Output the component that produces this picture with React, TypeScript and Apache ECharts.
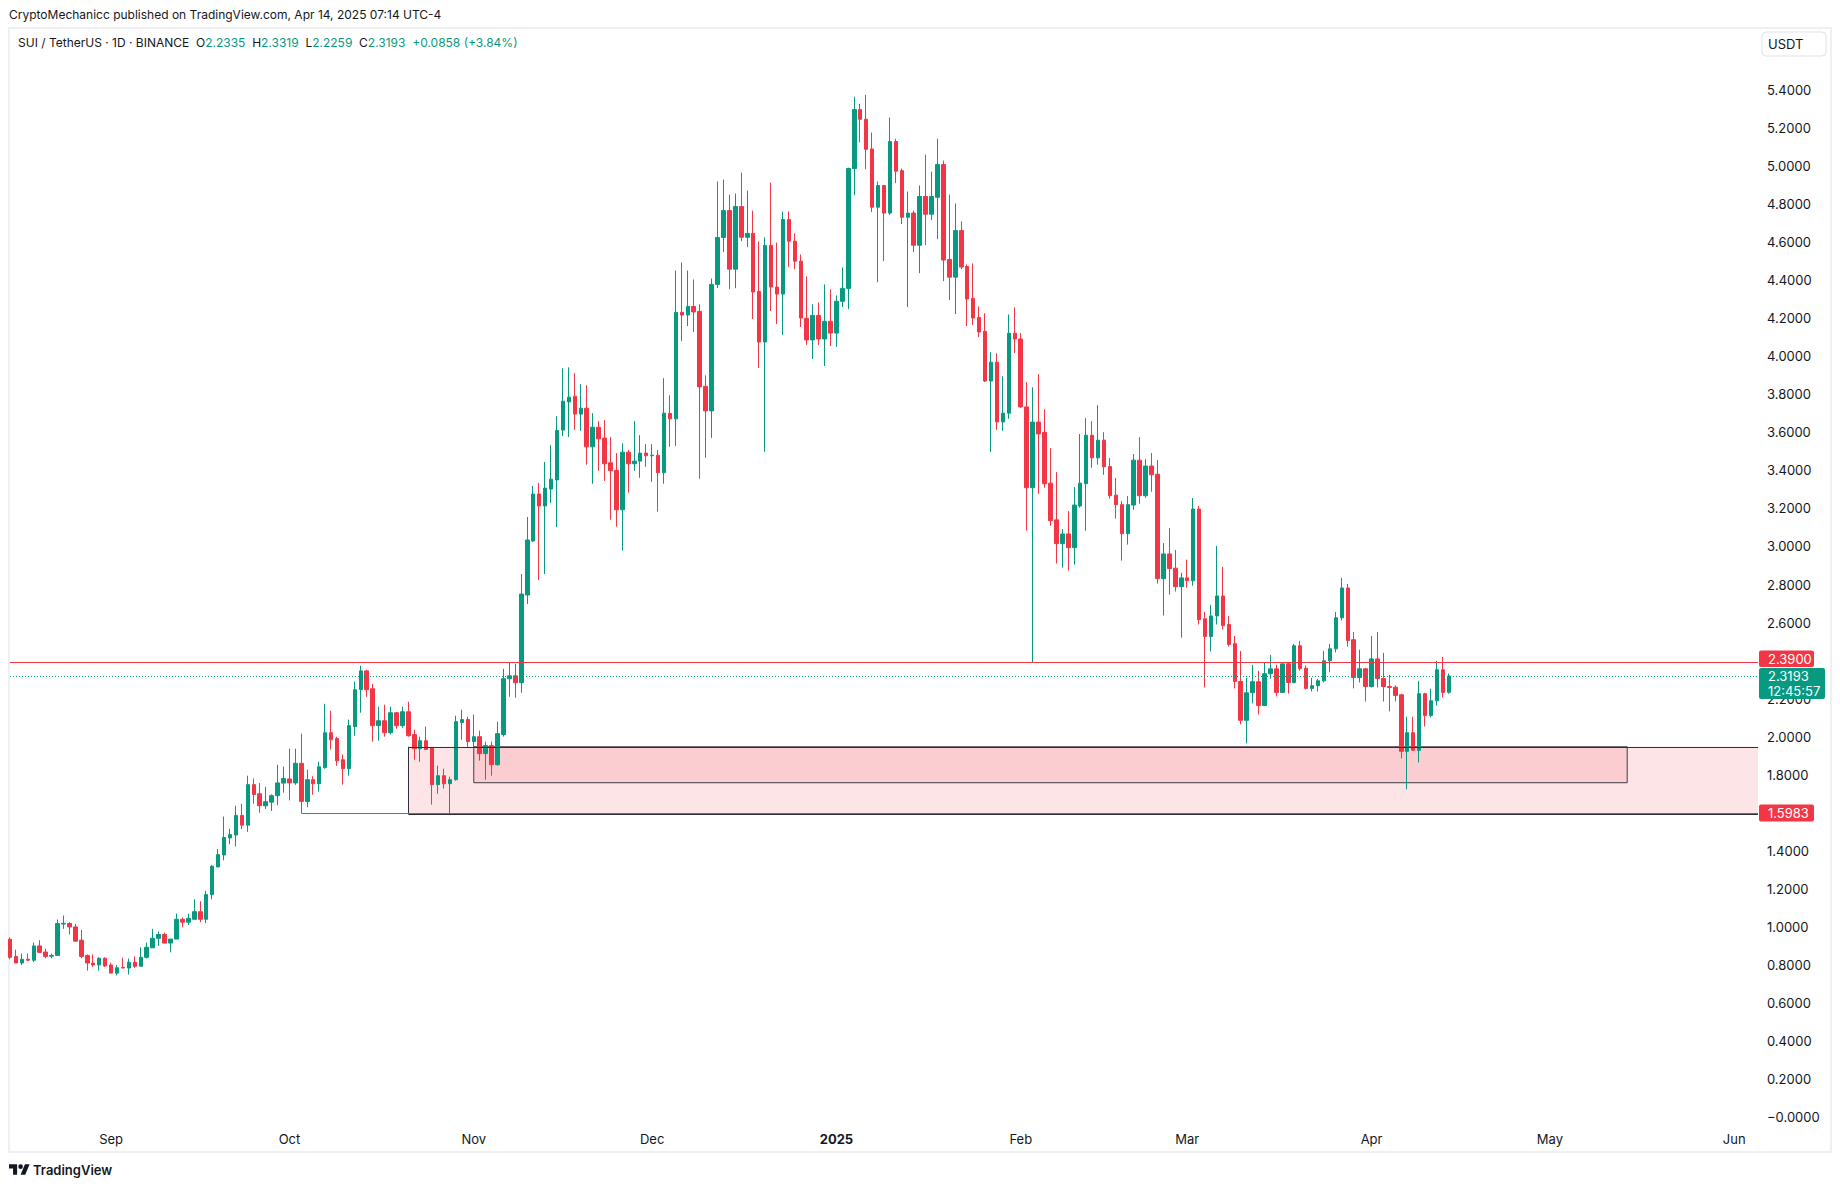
import React, { useEffect, useRef } from 'react';
import * as echarts from 'echarts';

const START_DATE = '2024-08-15';
const END_DATE = '2025-06-05';

// daily candles: [open, high, low, close]
const aug2024 = [
  [0.935, 0.945, 0.83, 0.84], [0.845, 0.88, 0.81, 0.81], [0.81, 0.86, 0.8, 0.83], [0.83, 0.86, 0.82, 0.825],
  [0.825, 0.918, 0.815, 0.9], [0.9, 0.93, 0.866, 0.866], [0.868, 0.885, 0.835, 0.845], [0.846, 0.86, 0.835, 0.85],
  [0.85, 1.039, 0.85, 1.018], [1.015, 1.06, 0.99, 1.019], [1.018, 1.025, 0.96, 1.0], [1.0, 1.016, 0.925, 0.925],
  [0.93, 0.984, 0.836, 0.845], [0.85, 0.855, 0.77, 0.81], [0.81, 0.855, 0.79, 0.8], [0.8, 0.84, 0.77, 0.835],
  [0.835, 0.84, 0.79, 0.795],
];
const sep2024 = [
  [0.8, 0.812, 0.757, 0.757], [0.757, 0.8, 0.745, 0.785], [0.787, 0.838, 0.783, 0.784], [0.784, 0.834, 0.75, 0.814],
  [0.814, 0.845, 0.784, 0.793], [0.793, 0.893, 0.793, 0.84], [0.84, 0.918, 0.834, 0.893], [0.89, 0.99, 0.89, 0.94],
  [0.94, 0.976, 0.9, 0.96], [0.96, 0.97, 0.915, 0.915], [0.915, 0.936, 0.866, 0.936], [0.936, 1.07, 0.936, 1.04],
  [1.04, 1.05, 0.998, 1.025], [1.025, 1.07, 1.01, 1.045], [1.04, 1.145, 1.04, 1.08], [1.08, 1.135, 1.025, 1.04],
  [1.04, 1.19, 1.02, 1.17], [1.17, 1.325, 1.145, 1.319], [1.315, 1.41, 1.315, 1.38], [1.378, 1.58, 1.35, 1.47],
  [1.468, 1.517, 1.434, 1.485], [1.483, 1.637, 1.423, 1.586], [1.586, 1.648, 1.514, 1.535], [1.535, 1.795, 1.5, 1.748],
  [1.748, 1.78, 1.648, 1.696], [1.7, 1.757, 1.6, 1.637], [1.637, 1.737, 1.62, 1.658], [1.656, 1.697, 1.61, 1.69],
  [1.69, 1.853, 1.64, 1.757], [1.756, 1.843, 1.706, 1.78],
];
const oct2024 = [
  [1.778, 1.937, 1.665, 1.757], [1.757, 1.937, 1.747, 1.86], [1.86, 2.016, 1.5983, 1.66], [1.659, 1.827, 1.629, 1.774],
  [1.774, 1.792, 1.695, 1.753], [1.753, 1.868, 1.711, 1.842], [1.837, 2.173, 1.832, 2.021], [2.021, 2.136, 1.932, 1.984],
  [1.99, 2.0, 1.847, 1.873], [1.879, 1.906, 1.748, 1.832], [1.832, 2.09, 1.795, 2.058], [2.053, 2.289, 2.005, 2.247],
  [2.247, 2.373, 2.126, 2.346], [2.346, 2.352, 2.21, 2.247], [2.252, 2.278, 1.974, 2.058], [2.058, 2.158, 1.979, 2.084],
  [2.084, 2.168, 2.0, 2.021], [2.021, 2.158, 2.011, 2.126], [2.126, 2.13, 2.042, 2.058], [2.058, 2.158, 2.047, 2.131],
  [2.131, 2.184, 2.0, 2.005], [2.011, 2.037, 1.879, 1.937], [1.937, 2.0, 1.868, 1.979], [1.979, 2.053, 1.932, 1.933],
  [1.942, 1.945, 1.643, 1.748], [1.748, 1.848, 1.7, 1.795], [1.795, 1.832, 1.727, 1.753], [1.753, 1.79, 1.5983, 1.774],
  [1.774, 2.11, 1.769, 2.079], [2.074, 2.142, 1.984, 2.09], [2.09, 2.105, 1.942, 1.974],
];
const nov2024 = [
  [1.974, 2.116, 1.879, 2.0], [2.0, 2.032, 1.874, 1.911], [1.911, 1.974, 1.774, 1.953], [1.953, 1.974, 1.795, 1.853],
  [1.853, 2.079, 1.848, 2.016], [2.011, 2.357, 2.0, 2.305], [2.305, 2.389, 2.21, 2.32], [2.32, 2.383, 2.205, 2.284],
  [2.284, 2.855, 2.231, 2.75], [2.745, 3.155, 2.698, 3.034], [3.029, 3.318, 3.024, 3.276], [3.276, 3.334, 2.824, 3.213],
  [3.213, 3.444, 2.855, 3.307], [3.302, 3.533, 3.228, 3.354], [3.35, 3.685, 3.102, 3.61], [3.612, 3.937, 3.58, 3.764],
  [3.76, 3.942, 3.576, 3.785], [3.79, 3.911, 3.613, 3.696], [3.696, 3.853, 3.608, 3.727], [3.727, 3.848, 3.43, 3.524],
  [3.524, 3.701, 3.33, 3.627], [3.627, 3.659, 3.398, 3.566], [3.57, 3.664, 3.345, 3.435], [3.44, 3.575, 3.141, 3.398],
  [3.4, 3.491, 3.104, 3.193], [3.193, 3.543, 2.978, 3.496], [3.496, 3.507, 3.283, 3.435], [3.435, 3.659, 3.398, 3.449],
  [3.449, 3.585, 3.361, 3.491], [3.491, 3.538, 3.419, 3.477],
];
const dec2024 = [
  [3.477, 3.538, 3.34, 3.48], [3.48, 3.507, 3.183, 3.388], [3.388, 3.885, 3.33, 3.701], [3.7, 3.795, 3.524, 3.671],
  [3.671, 4.451, 3.529, 4.231], [4.231, 4.493, 4.08, 4.217], [4.217, 4.451, 4.159, 4.262], [4.262, 4.404, 4.128, 4.233],
  [4.236, 4.273, 3.356, 3.839], [3.842, 3.9, 3.466, 3.713], [3.713, 4.409, 3.571, 4.378], [4.378, 4.919, 4.359, 4.625],
  [4.625, 4.929, 4.548, 4.766], [4.766, 4.85, 4.353, 4.458], [4.458, 4.856, 4.358, 4.787], [4.787, 4.966, 4.605, 4.626],
  [4.626, 4.871, 4.574, 4.646], [4.646, 4.766, 4.196, 4.338], [4.34, 4.604, 3.939, 4.075], [4.075, 4.625, 3.498, 4.583],
  [4.583, 4.913, 4.238, 4.364], [4.364, 4.598, 4.17, 4.327], [4.327, 4.761, 4.112, 4.719], [4.719, 4.761, 4.469, 4.605],
  [4.605, 4.646, 4.458, 4.5], [4.5, 4.535, 4.154, 4.201], [4.2, 4.42, 4.06, 4.086], [4.086, 4.273, 3.986, 4.215],
  [4.215, 4.283, 4.06, 4.091], [4.091, 4.378, 3.949, 4.184], [4.184, 4.352, 4.054, 4.122],
];
const jan2025 = [
  [4.122, 4.32, 4.049, 4.289], [4.289, 4.467, 4.259, 4.357], [4.357, 4.992, 4.248, 4.987], [4.987, 5.365, 4.847, 5.297],
  [5.297, 5.328, 5.125, 5.246], [5.246, 5.375, 4.983, 5.088], [5.09, 5.176, 4.758, 4.784], [4.784, 4.919, 4.39, 4.898],
  [4.898, 4.9, 4.5, 4.753], [4.753, 5.255, 4.742, 5.129], [5.129, 5.144, 4.91, 4.973], [4.976, 4.987, 4.695, 4.731],
  [4.731, 4.866, 4.259, 4.753], [4.753, 4.766, 4.548, 4.584], [4.584, 4.898, 4.437, 4.84], [4.84, 5.06, 4.584, 4.747],
  [4.747, 4.971, 4.716, 4.84], [4.836, 5.144, 4.616, 5.008], [5.008, 5.029, 4.395, 4.506], [4.509, 4.85, 4.296, 4.416],
  [4.416, 4.803, 4.222, 4.661], [4.661, 4.709, 4.458, 4.469], [4.472, 4.483, 4.159, 4.301], [4.304, 4.488, 4.164, 4.201],
  [4.204, 4.262, 4.101, 4.128], [4.131, 4.226, 3.865, 3.87], [3.87, 4.021, 3.498, 3.969], [3.969, 4.016, 3.613, 3.655],
  [3.655, 3.895, 3.608, 3.701], [3.701, 4.22, 3.671, 4.121], [4.121, 4.257, 4.017, 4.091],
];
const feb2025 = [
  [4.091, 4.122, 3.729, 3.734], [3.734, 3.864, 3.083, 3.309], [3.309, 3.837, 2.392, 3.654], [3.654, 3.906, 3.277, 3.592],
  [3.6, 3.722, 3.309, 3.33], [3.333, 3.517, 3.109, 3.136], [3.14, 3.391, 2.91, 3.015], [3.015, 3.092, 2.889, 3.066],
  [3.066, 3.186, 2.873, 2.994], [2.994, 3.312, 2.905, 3.218], [3.213, 3.591, 3.204, 3.333], [3.33, 3.675, 3.083, 3.585],
  [3.585, 3.659, 3.414, 3.466], [3.466, 3.743, 3.43, 3.559], [3.559, 3.601, 3.377, 3.419], [3.42, 3.465, 3.251, 3.267],
  [3.27, 3.36, 3.146, 3.22], [3.22, 3.239, 2.926, 3.067], [3.067, 3.265, 3.01, 3.22], [3.218, 3.486, 3.193, 3.454],
  [3.454, 3.575, 3.225, 3.267], [3.267, 3.459, 3.256, 3.423], [3.423, 3.491, 3.288, 3.377], [3.38, 3.454, 2.805, 2.831],
  [2.831, 3.018, 2.637, 2.961], [2.961, 3.097, 2.747, 2.884], [2.886, 2.982, 2.763, 2.789], [2.789, 2.862, 2.521, 2.835],
];
const mar2025 = [
  [2.835, 2.931, 2.784, 2.82], [2.82, 3.255, 2.794, 3.197], [3.197, 3.213, 2.59, 2.616], [2.62, 2.656, 2.259, 2.527],
  [2.527, 2.693, 2.448, 2.635], [2.635, 3.003, 2.59, 2.74], [2.74, 2.892, 2.563, 2.584], [2.59, 2.635, 2.474, 2.485],
  [2.489, 2.53, 2.254, 2.29], [2.29, 2.451, 2.065, 2.086], [2.086, 2.31, 1.965, 2.231], [2.231, 2.378, 2.175, 2.289],
  [2.289, 2.346, 2.117, 2.164], [2.164, 2.388, 2.164, 2.331], [2.331, 2.43, 2.305, 2.357], [2.357, 2.378, 2.212, 2.233],
  [2.233, 2.385, 2.233, 2.383], [2.383, 2.39, 2.227, 2.285], [2.285, 2.488, 2.28, 2.478], [2.478, 2.504, 2.348, 2.359],
  [2.36, 2.375, 2.249, 2.254], [2.254, 2.31, 2.238, 2.268], [2.268, 2.304, 2.238, 2.294], [2.294, 2.451, 2.285, 2.399],
  [2.399, 2.488, 2.338, 2.462], [2.462, 2.656, 2.443, 2.625], [2.625, 2.835, 2.611, 2.782], [2.782, 2.803, 2.474, 2.506],
  [2.51, 2.551, 2.254, 2.311], [2.311, 2.457, 2.285, 2.357], [2.357, 2.362, 2.185, 2.264],
];
const apr2025 = [
  [2.264, 2.53, 2.259, 2.409], [2.409, 2.551, 2.259, 2.306], [2.306, 2.441, 2.185, 2.264], [2.264, 2.325, 2.133, 2.259],
  [2.26, 2.27, 2.185, 2.217], [2.22, 2.226, 1.886, 1.923], [1.923, 2.105, 1.723, 2.021], [2.021, 2.105, 1.928, 1.929],
  [1.928, 2.294, 1.865, 2.226], [2.226, 2.231, 2.054, 2.112], [2.112, 2.252, 2.101, 2.189], [2.189, 2.399, 2.164, 2.352],
  [2.352, 2.42, 2.206, 2.233], [2.2335, 2.3319, 2.2259, 2.3193],
];

// levels and drawings
const lastPrice = 2.3193;
const resistance = 2.39;
const support = 1.5983;
const supportStart = '2024-10-03';
const zoneTop = 1.947;
const zoneBottom = 1.592;
const zoneStart = '2024-10-21';
const innerBottom = 1.758;
const innerStart = '2024-11-01';
const innerEnd = '2025-05-14';
const countdown = '12:45:57';

const monthLabels = ['2025', 'Feb', 'Mar', 'Apr', 'May', 'Jun', 'Jul', 'Aug', 'Sep', 'Oct', 'Nov', 'Dec'];

const UP = '#089981';
const DOWN = '#f23645';
const TEXT = '#131722';
const FONT = 'Inter, Roboto, "Noto Sans", sans-serif';

function buildDates() {
  const out: string[] = [];
  const d = new Date(START_DATE + 'T00:00:00Z');
  const end = new Date(END_DATE + 'T00:00:00Z');
  while (d.getTime() <= end.getTime()) {
    out.push(d.toISOString().slice(0, 10));
    d.setUTCDate(d.getUTCDate() + 1);
  }
  return out;
}

const TV_LOGO = 'M14 22H7V11H0V4h14v18zM28 22h-8l7.5-18h8L28 22zM24 8a4 4 0 1 1-8 0a4 4 0 1 1 8 0z';
let logoRegistered = false;

export default function App() {
  const ref = useRef<HTMLDivElement>(null);

  useEffect(() => {
    document.body.style.margin = '0';
    if (!logoRegistered) {
      echarts.graphic.registerShape('tvlogo', echarts.graphic.extendPath(TV_LOGO, {}) as any);
      logoRegistered = true;
    }
    const chart = echarts.init(ref.current as HTMLDivElement, null, { renderer: 'svg' });
    const dates = buildDates();
    const ohlc = [...aug2024, ...sep2024, ...oct2024, ...nov2024, ...dec2024, ...jan2025, ...feb2025, ...mar2025, ...apr2025];
    const candles = ohlc.map((c) => [c[0], c[3], c[2], c[1]]);
    const lastDate = dates[dates.length - 1];

    const option: any = {
      animation: false,
      backgroundColor: '#ffffff',
      grid: { left: 10, right: 82, top: 28, bottom: 62, containLabel: false },
      xAxis: {
        type: 'category',
        data: dates,
        boundaryGap: false,
        axisLine: { show: false },
        axisTick: { show: false },
        splitLine: { show: false },
        axisLabel: {
          interval: (_i: number, v: string) => v.slice(8) === '01',
          formatter: (v: string) => {
            const m = parseInt(v.slice(5, 7), 10) - 1;
            return m === 0 ? '{b|' + v.slice(0, 4) + '}' : monthLabels[m];
          },
          color: TEXT,
          fontSize: 13,
          fontFamily: FONT,
          margin: 7,
          rich: { b: { fontWeight: 'bold', fontSize: 13, fontFamily: FONT, color: TEXT } },
        },
      },
      yAxis: {
        type: 'value',
        position: 'right',
        min: -0.0415,
        max: 5.726,
        splitNumber: 29,
        axisLine: { show: false },
        axisTick: { show: false },
        splitLine: { show: false },
        axisLabel: {
          color: TEXT,
          fontSize: 13,
          fontFamily: FONT,
          margin: 9,
          formatter: (v: number) => {
            if (v < -0.01 || v > 5.45) return '';
            if (Math.abs(v) < 1e-9) return '\u22120.0000';
            return v.toFixed(4);
          },
        },
      },
      series: [
        {
          type: 'line',
          data: [],
          z: 1,
          silent: true,
          markArea: {
            silent: true,
            emphasis: { disabled: true },
            data: [
              [
                { coord: [zoneStart, zoneTop], itemStyle: { color: '#fde4e7', borderWidth: 0 } },
                { coord: [lastDate, zoneBottom] },
              ],
              [
                { coord: [innerStart, zoneTop], itemStyle: { color: '#fbcdd1', borderColor: '#3d3d48', borderWidth: 1 } },
                { coord: [innerEnd, innerBottom] },
              ],
            ],
          },
          markLine: {
            silent: true,
            symbol: ['none', 'none'],
            label: { show: false },
            emphasis: { disabled: true },
            lineStyle: { color: '#2f2f3a', width: 1, type: 'solid' },
            data: [
              [{ coord: [zoneStart, zoneTop] }, { coord: [lastDate, zoneTop] }],
              [{ coord: [zoneStart, zoneBottom] }, { coord: [lastDate, zoneBottom] }],
              [{ coord: [zoneStart, zoneBottom] }, { coord: [zoneStart, zoneTop] }],
            ],
          },
        },
        {
          type: 'candlestick',
          z: 2,
          data: candles,
          barWidth: 4,
          itemStyle: {
            color: UP,
            color0: DOWN,
            borderColor: UP,
            borderColor0: DOWN,
            borderWidth: 1,
          },
        },
        {
          type: 'line',
          data: [],
          z: 3,
          silent: true,
          markLine: {
            silent: true,
            symbol: ['none', 'none'],
            label: { show: false },
            emphasis: { disabled: true },
            data: [
              { yAxis: resistance, lineStyle: { color: DOWN, width: 1, type: 'solid' } },
              { yAxis: lastPrice, lineStyle: { color: UP, width: 1, type: [1, 2] } },
              [
                { coord: [supportStart, support], lineStyle: { color: DOWN, width: 1, type: 'solid' } },
                { coord: [lastDate, support] },
              ],
            ],
          },
        },
      ],
    };

    chart.setOption(option);

    const yPx = (v: number) => chart.convertToPixel({ yAxisIndex: 0 } as any, v) as number;
    const yLast = yPx(lastPrice);
    const yRes = yPx(resistance);
    const ySup = yPx(support);
    const gTop = yLast - 8;
    const rTop = Math.min(yRes - 8.5, gTop - 17.5);
    const badgeText = { fill: '#ffffff', fontSize: 13, fontFamily: FONT, verticalAlign: 'middle', align: 'left' };

    chart.setOption({
      graphic: [
        { type: 'rect', z: 0, silent: true, shape: { x: 9, y: 28, width: 1822, height: 1124 }, style: { fill: 'none', stroke: '#eef0f4', lineWidth: 2 } },
        { type: 'text', z: 100, x: 9, y: 14, style: { text: 'CryptoMechanicc published on TradingView.com, Apr 14, 2025 07:14 UTC-4', fill: TEXT, fontSize: 12, fontFamily: FONT, verticalAlign: 'middle' } },
        {
          type: 'text', z: 100, x: 18, y: 42,
          style: {
            text: 'SUI / TetherUS \u00b7 1D \u00b7 BINANCE  O{v|2.2335}  H{v|2.3319}  L{v|2.2259}  C{v|2.3193}  {v|+0.0858 (+3.84%)}',
            fill: TEXT, fontSize: 12, fontFamily: FONT, verticalAlign: 'middle',
            rich: { v: { fill: UP, fontSize: 12, fontFamily: FONT } },
          },
        },
        { type: 'rect', z: 100, shape: { x: 1762, y: 32, width: 64, height: 24, r: 4 }, style: { fill: '#ffffff', stroke: '#e0e3eb', lineWidth: 1 } },
        { type: 'text', z: 101, x: 1768, y: 44, style: { text: 'USDT', fill: TEXT, fontSize: 13, fontFamily: FONT, verticalAlign: 'middle' } },
        { type: 'rect', z: 100, shape: { x: 1759, y: rTop, width: 55, height: 16.5, r: 2 }, style: { fill: DOWN } },
        { type: 'text', z: 101, x: 1768, y: rTop + 8.25, style: { text: resistance.toFixed(4), ...badgeText } },
        { type: 'rect', z: 100, shape: { x: 1759, y: gTop, width: 66, height: 31, r: 2 }, style: { fill: UP } },
        { type: 'text', z: 101, x: 1768, y: yLast, style: { text: lastPrice.toFixed(4), ...badgeText } },
        { type: 'text', z: 101, x: 1768, y: yLast + 15, style: { text: countdown, ...badgeText } },
        { type: 'rect', z: 100, shape: { x: 1759, y: ySup - 8.5, width: 55, height: 17, r: 2 }, style: { fill: DOWN } },
        { type: 'text', z: 101, x: 1768, y: ySup, style: { text: support.toFixed(4), ...badgeText } },
        { type: 'tvlogo', z: 100, x: 9, y: 1162, scaleX: 0.58, scaleY: 0.58, style: { fill: TEXT } },
        { type: 'text', z: 100, x: 33, y: 1170, style: { text: 'TradingView', fill: TEXT, fontSize: 13, fontWeight: 600, fontFamily: FONT, verticalAlign: 'middle' } },
      ],
    });

    return () => {
      chart.dispose();
    };
  }, []);

  return <div ref={ref} style={{ width: 1840, height: 1187 }} />;
}
